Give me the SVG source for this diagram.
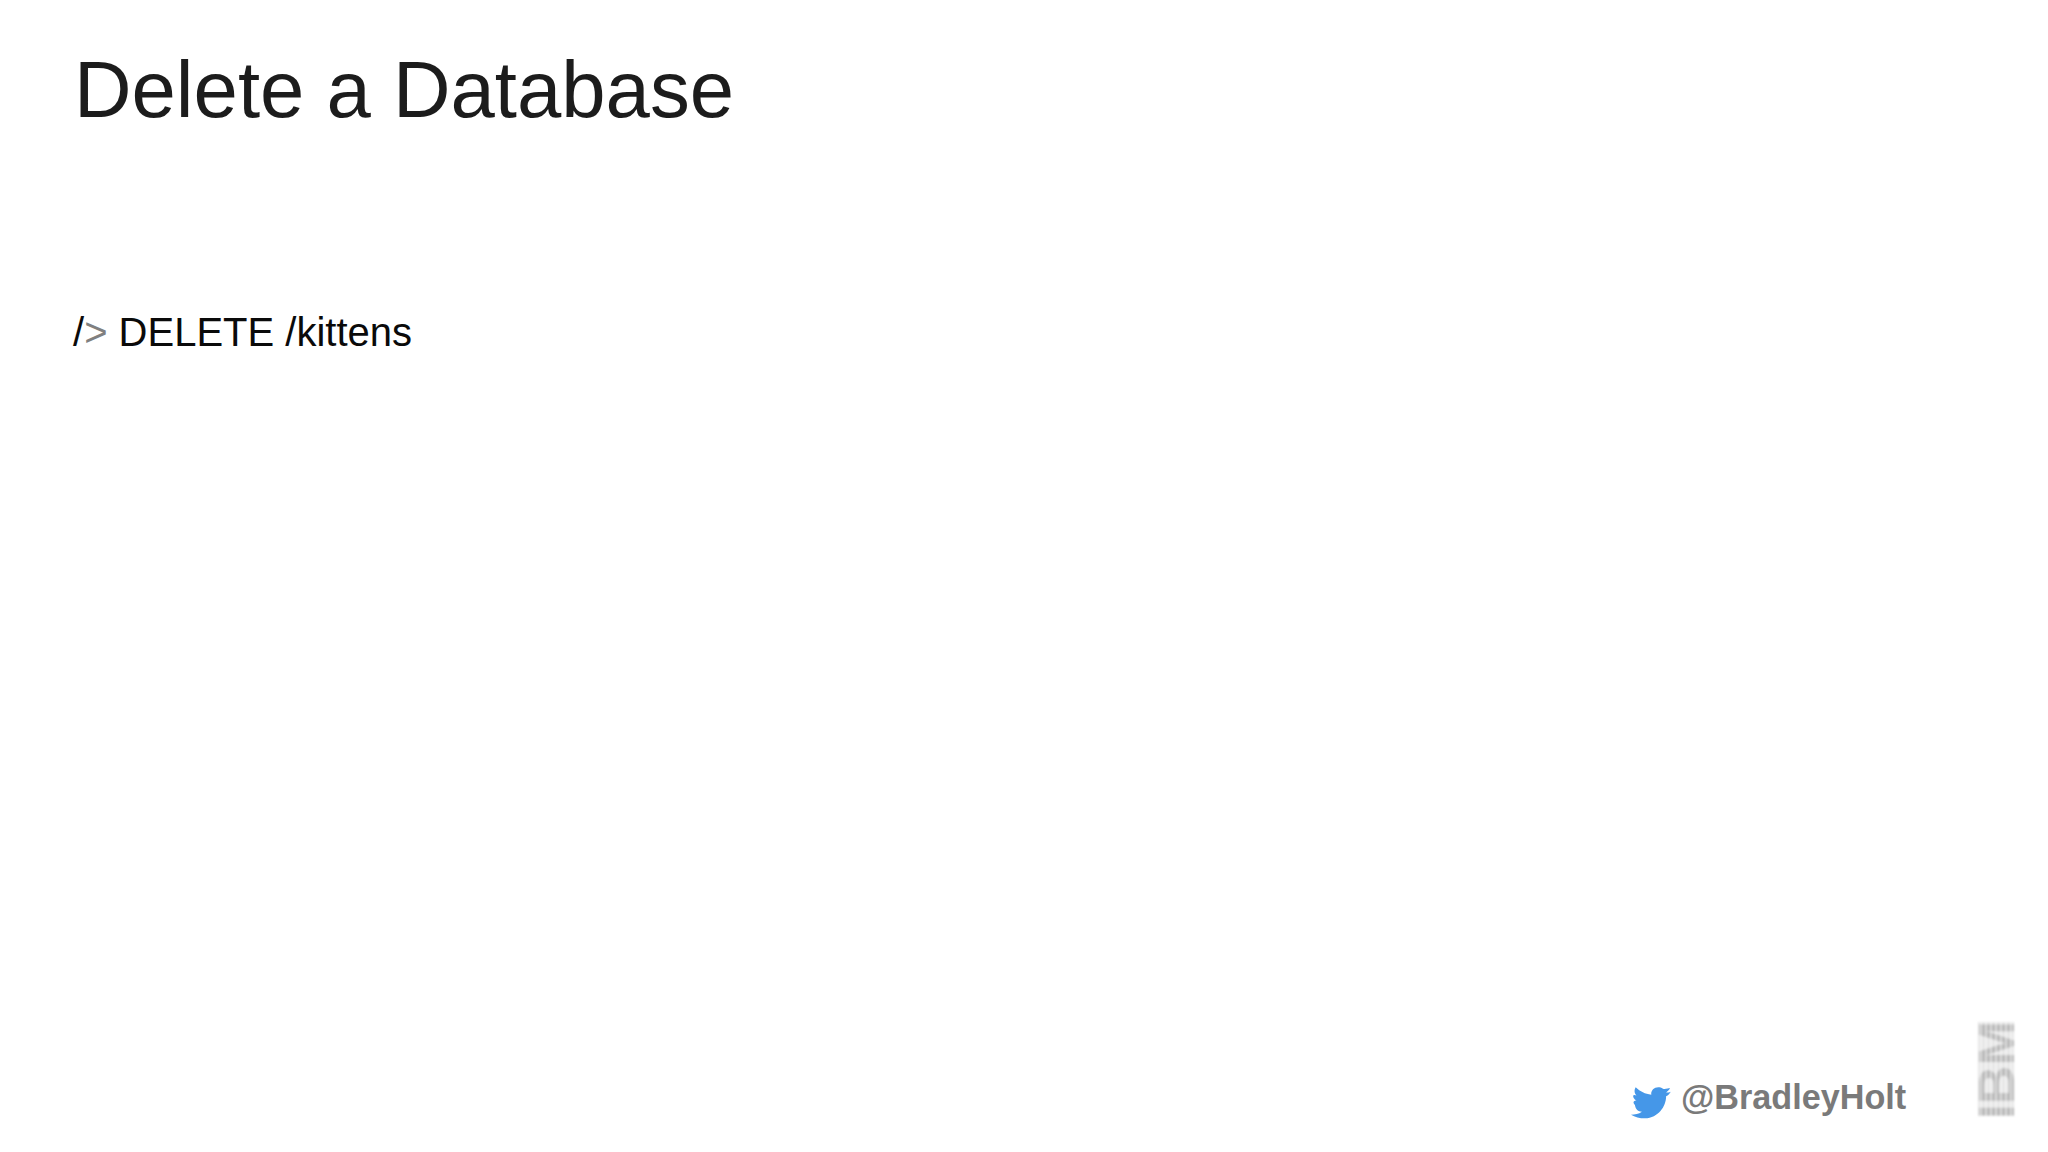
<svg xmlns="http://www.w3.org/2000/svg" width="2048" height="1152" viewBox="0 0 2048 1152">
<defs>
<style>
text{font-family:"Liberation Sans",Arial,sans-serif}
.title{font-size:79.7px;fill:#1c1c1c}
.cmd{font-size:40px;fill:#0a0a0a}
.prompt{fill:#808080}
.handle{font-size:34.2px;font-weight:bold;fill:#7a7a7a}
.logo{font-size:50px;font-weight:bold;fill:#b8b8b8}
</style>
<filter id="soft" x="-20%" y="-20%" width="140%" height="140%"><feGaussianBlur stdDeviation="1"/></filter>
<pattern id="stripes" width="5" height="6" patternUnits="userSpaceOnUse"><rect width="2" height="6" fill="#fff" fill-opacity="0.5"/></pattern>
</defs>
<rect width="2048" height="1152" fill="#fff"/>
<g id="title"><text class="title" x="74" y="117">Delete a Database</text></g>
<g id="command"><text class="cmd" x="73" y="346">/<tspan class="prompt">&gt;</tspan> DELETE /kittens</text></g>
<g id="twitter">
<path d="M1670 1092c-3-3-2-6 2-6-3-2-5-5-4-7 1-1 3 0 4 0-3-3-3-8-1-11 6 6 12 9 20 10-1-8 8-13 15-8 3 1 7-1 9-1-1 3-3 4-5 6 2 0 4 0 6-1-2 3-3 5-6 6 0 14-10 29-27 30-7 0-13-2-18-5 5 0 10-1 14-4-5 0-8-3-9-9z" fill="#4597e8" transform="translate(1631 1071) scale(.78 .74) translate(-1665 -1046)"/>
<text class="handle" x="1681" y="1109">@BradleyHolt</text>
</g>
<g id="ibm-logo" filter="url(#soft)">
<rect x="1978" y="1022" width="36" height="94" fill="#e6e6e6"/>
<text class="logo" transform="translate(2014 1119) rotate(-90) scale(1.07 1)">IBM</text>
<rect x="1977" y="1020" width="38" height="98" fill="url(#stripes)"/>
</g>
</svg>
